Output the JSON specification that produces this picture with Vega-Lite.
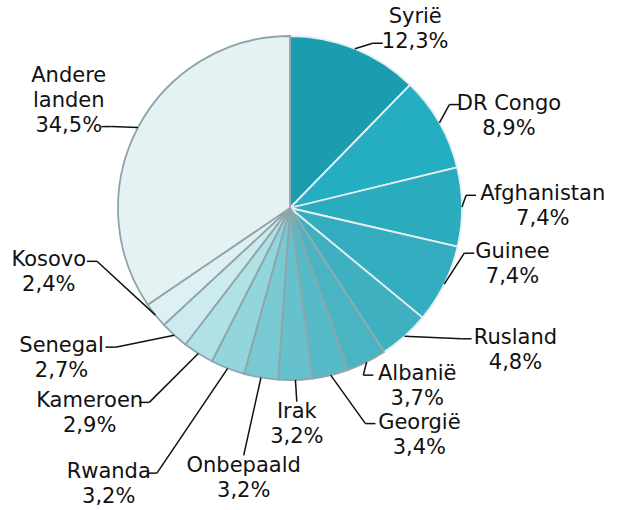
{
  "$schema": "https://vega.github.io/schema/vega-lite/v6.json",
  "width": 580,
  "height": 416,
  "autosize": "none",
  "padding": {"left": 0, "top": 0, "right": 55, "bottom": 94},
  "background": "white",
  "config": {
    "view": {"stroke": null},
    "text": {"font": "DejaVu Sans", "fontSize": 21, "color": "#111111"}
  },
  "data": {
    "values": [
      {"nr": 1, "land": "Syrië", "pct": 12.3},
      {"nr": 2, "land": "DR Congo", "pct": 8.9},
      {"nr": 3, "land": "Afghanistan", "pct": 7.4},
      {"nr": 4, "land": "Guinee", "pct": 7.4},
      {"nr": 5, "land": "Rusland", "pct": 4.8},
      {"nr": 6, "land": "Albanië", "pct": 3.7},
      {"nr": 7, "land": "Georgië", "pct": 3.4},
      {"nr": 8, "land": "Irak", "pct": 3.2},
      {"nr": 9, "land": "Onbepaald", "pct": 3.2},
      {"nr": 10, "land": "Rwanda", "pct": 3.2},
      {"nr": 11, "land": "Kameroen", "pct": 2.9},
      {"nr": 12, "land": "Senegal", "pct": 2.7},
      {"nr": 13, "land": "Kosovo", "pct": 2.4},
      {"nr": 14, "land": "Andere landen", "pct": 34.5}
    ]
  },
  "transform": [
    {
      "window": [{"op": "sum", "field": "pct", "as": "cum"}],
      "sort": [{"field": "nr", "order": "ascending"}],
      "frame": [null, 0]
    },
    {"calculate": "replace(format(datum.pct, '.1f'), '.', ',') + '%'", "as": "pctTxt"},
    {"calculate": "datum.land == 'Andere landen' ? 'Andere|landen|' + datum.pctTxt : datum.land + '|' + datum.pctTxt", "as": "label"},
    {"calculate": "datum.land == 'Andere landen' ? 6 : max(length(datum.land), length(datum.pctTxt))", "as": "nchar"},
    {"calculate": "datum.land == 'Andere landen' ? 3 : 2", "as": "nlines"},
    {"calculate": "(datum.cum - datum.pct / 2) * PI / 50", "as": "mid"},
    {"calculate": "datum.mid < 1.658 ? datum.mid + 0.244 * cos(datum.mid) : datum.mid < 2.2 ? datum.mid - 0.209 : datum.mid < 3.0 ? datum.mid - (datum.nr % 2 == 1 ? 0.279 : 0.157) : datum.mid < 3.403 ? datum.mid : datum.mid < 4.363 ? datum.mid + 0.2094 + max(0, datum.mid - 3.8397) : datum.mid - 0.035", "as": "la"},
    {"calculate": "(datum.la > 3.49 && datum.la < 4.54) ? 20 + 50 * (4.45 - datum.la) + max(0, 3.8 - datum.la) * 560 : datum.la >= 4.54 ? 16 : (datum.nr % 2 == 1 && datum.nr >= 5) ? (datum.la > 3.0 ? 50 : 29) : (datum.nr % 2 == 0 && datum.nr >= 5 && datum.la < 2.8) ? -15 : 0", "as": "extra"},
    {"calculate": "190 + 5.7 * datum.nchar * abs(sin(datum.la)) + (cos(datum.la) < 0 ? 13 : 7) * datum.nlines * abs(cos(datum.la)) + datum.extra", "as": "d"},
    {"calculate": "datum.d * sin(datum.la)", "as": "xt"},
    {"calculate": "datum.d * cos(datum.la)", "as": "yc"},
    {"calculate": "datum.yc + (datum.nlines - 1) * 12.5", "as": "yt"},
    {"calculate": "abs(sin(datum.la)) > 0.3", "as": "side"},
    {"calculate": "sin(datum.la) > 0 ? 1 : -1", "as": "sgn"},
    {"calculate": "cos(datum.la) > 0.43", "as": "useLast"},
    {"calculate": "datum.useLast ? length(datum.pctTxt) : (datum.land == 'Andere landen' ? 6 : length(datum.land))", "as": "lineLen"},
    {"calculate": "datum.useLast ? datum.yc - 12.5 * (datum.nlines - 1) - 1 : datum.yc + 12.5 * (datum.nlines - 1) - 1", "as": "ly"},
    {"calculate": "172 * sin(datum.mid)", "as": "x1"},
    {"calculate": "172 * cos(datum.mid)", "as": "y1"},
    {"calculate": "datum.side ? datum.xt - datum.sgn * (5.7 * datum.lineLen + 4) : datum.xt", "as": "xe"},
    {"calculate": "datum.side ? datum.ly : datum.yc + 12.5 * datum.nlines - 2", "as": "ye"},
    {"calculate": "datum.side ? datum.xe - datum.sgn * 10 : datum.xe", "as": "xk"}
  ],
  "layer": [
    {
      "mark": {"type": "arc", "outerRadius": 172, "strokeWidth": 1.8},
      "encoding": {
        "theta": {"field": "pct", "type": "quantitative", "stack": true},
        "order": {"field": "nr", "type": "quantitative"},
        "stroke": {"condition": {"test": "datum.nr >= 6", "value": "#8ea5a9"}, "value": "#e3eff1"},
        "color": {
          "field": "land",
          "type": "nominal",
          "legend": null,
          "scale": {
            "domain": ["Syrië", "DR Congo", "Afghanistan", "Guinee", "Rusland", "Albanië", "Georgië", "Irak", "Onbepaald", "Rwanda", "Kameroen", "Senegal", "Kosovo", "Andere landen"],
            "range": ["#1b9db0", "#25adc1", "#2aacbe", "#33adbf", "#3eb0c0", "#4ab4c3", "#57bac7", "#66c1cc", "#78c9d2", "#92d5dc", "#b0e1e5", "#cdebee", "#ddf1f3", "#e4f2f4"]
          }
        }
      }
    },
    {
      "mark": {"type": "rule", "color": "#111111", "strokeWidth": 1.5},
      "encoding": {
        "x": {"field": "x1", "type": "quantitative", "scale": {"domain": [-290, 290], "nice": false, "zero": false}, "axis": null},
        "y": {"field": "y1", "type": "quantitative", "scale": {"domain": [-208, 208], "nice": false, "zero": false}, "axis": null},
        "x2": {"field": "xk"},
        "y2": {"field": "ye"}
      }
    },
    {
      "mark": {"type": "rule", "color": "#111111", "strokeWidth": 1.5},
      "encoding": {
        "x": {"field": "xk", "type": "quantitative"},
        "y": {"field": "ye", "type": "quantitative"},
        "x2": {"field": "xe"},
        "y2": {"field": "ye"}
      }
    },
    {
      "mark": {"type": "text", "align": "center", "baseline": "middle", "lineBreak": "|", "lineHeight": 25},
      "encoding": {
        "x": {"field": "xt", "type": "quantitative"},
        "y": {"field": "yt", "type": "quantitative"},
        "text": {"field": "label", "type": "nominal"}
      }
    }
  ]
}
